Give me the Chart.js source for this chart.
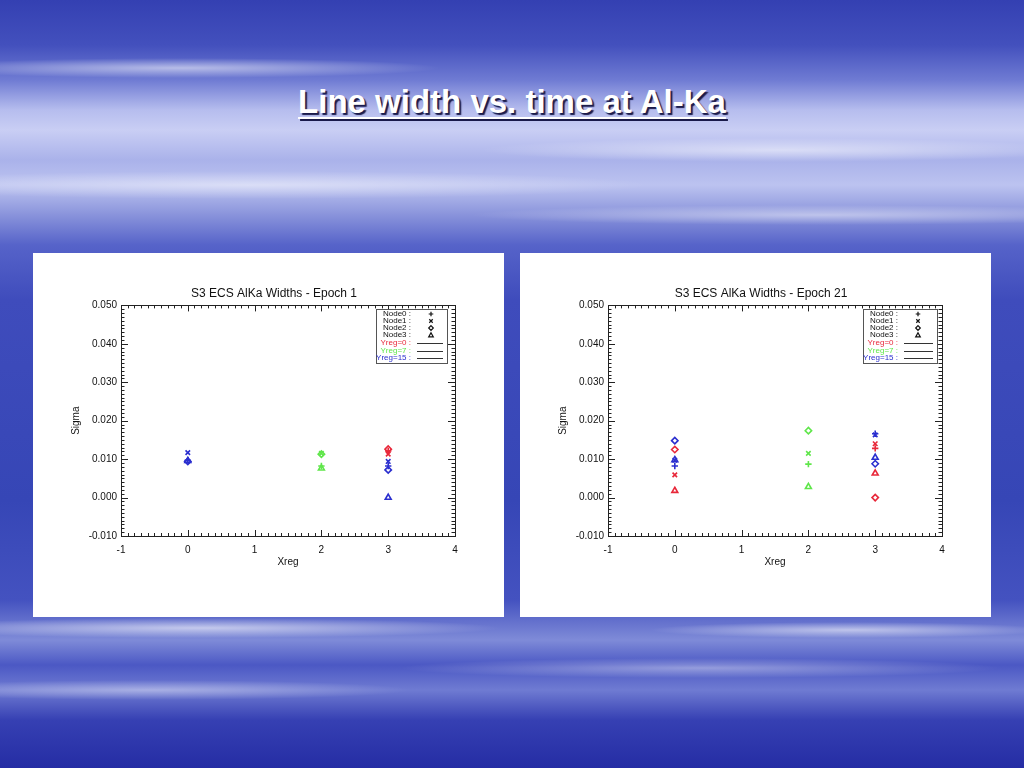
<!DOCTYPE html>
<html>
<head>
<meta charset="utf-8">
<script src="https://cdn.jsdelivr.net/npm/chart.js@4.4.1/dist/chart.umd.min.js"></script>
<style>
html,body{margin:0;padding:0;}
body{width:1024px;height:768px;overflow:hidden;position:relative;
background:
 radial-gradient(ellipse 260px 10px at 180px 68px, rgba(255,255,255,0.55), rgba(255,255,255,0) 100%),
 radial-gradient(ellipse 300px 12px at 780px 150px, rgba(255,255,255,0.5), rgba(255,255,255,0) 100%),
 radial-gradient(ellipse 400px 14px at 250px 185px, rgba(255,255,255,0.45), rgba(255,255,255,0) 100%),
 radial-gradient(ellipse 350px 10px at 820px 215px, rgba(255,255,255,0.45), rgba(255,255,255,0) 100%),
 radial-gradient(ellipse 300px 10px at 200px 628px, rgba(255,255,255,0.6), rgba(255,255,255,0) 100%),
 radial-gradient(ellipse 200px 8px at 850px 630px, rgba(255,255,255,0.55), rgba(255,255,255,0) 100%),
 radial-gradient(ellipse 260px 10px at 150px 690px, rgba(255,255,255,0.4), rgba(255,255,255,0) 100%),
 radial-gradient(ellipse 300px 10px at 700px 668px, rgba(255,255,255,0.4), rgba(255,255,255,0) 100%),
 linear-gradient(to bottom,#3440b2 0px,#4350bd 45px,#6f7bd3 80px,#b6bdee 110px,#c9cef4 130px,#aab2ea 160px,#bcc3f0 185px,#8993db 215px,#5663c9 245px,#3f4cbc 300px,#3646b6 500px,#4452c0 600px,#7f8bd8 640px,#4b58c4 665px,#6f7bd2 690px,#3640b3 720px,#252da4 768px);
 font-family:"Liberation Sans",Arial,sans-serif;}
#title{position:absolute;left:0;width:1024px;top:83px;text-align:center;color:#fff;font:bold 33px/38px "Liberation Sans",Arial,sans-serif;text-decoration:underline;text-decoration-thickness:2px;text-underline-offset:4px;text-shadow:2px 2px 1px #1a1a4a;}
.panel{position:absolute;top:253px;width:471px;height:364px;background:#fff;}
.panel canvas{display:block;}
</style>
</head>
<body>
<div id="title">Line width vs. time at Al-Ka</div>
<div class="panel" style="left:33px"><canvas id="c1" width="471" height="364"></canvas></div>
<div class="panel" style="left:520px"><canvas id="c2" width="471" height="364"></canvas></div>
<script>
// ---- data ----
const xreg = [0, 1, 2, 3];
const xTicks = [-1, 0, 1, 2, 3, 4];
const yTicks = [-0.010, 0.000, 0.010, 0.020, 0.030, 0.040, 0.050];
const nodeNames = ['Node0', 'Node1', 'Node2', 'Node3'];
const yregNames = ['Yreg=0', 'Yreg=7', 'Yreg=15'];
const titles = ['S3 ECS AlKa Widths - Epoch 1', 'S3 ECS AlKa Widths - Epoch 21'];
const n = null;

// Epoch 1: sigma per Xreg (0..3), one array per Yreg and Node
const e1_y0_node0 = [n, n, n, 0.0121];
const e1_y0_node1 = [n, n, n, 0.0113];
const e1_y0_node2 = [n, n, n, 0.0126];
const e1_y0_node3 = [n, n, n, n];
const e1_y7_node0 = [n, n, 0.0082, n];
const e1_y7_node1 = [n, n, 0.0115, n];
const e1_y7_node2 = [n, n, 0.0113, n];
const e1_y7_node3 = [n, n, 0.0076, n];
const e1_y15_node0 = [0.0097, n, n, 0.0082];
const e1_y15_node1 = [0.0117, n, n, 0.0094];
const e1_y15_node2 = [0.0094, n, n, 0.0072];
const e1_y15_node3 = [0.0096, n, n, 0.0000];

// Epoch 21
const e21_y0_node0 = [n, n, n, 0.0128];
const e21_y0_node1 = [0.0059, n, n, 0.0140];
const e21_y0_node2 = [0.0125, n, n, 0.0000];
const e21_y0_node3 = [0.0018, n, n, 0.0063];
const e21_y7_node0 = [n, n, 0.0087, n];
const e21_y7_node1 = [n, n, 0.0115, n];
const e21_y7_node2 = [n, n, 0.0174, n];
const e21_y7_node3 = [n, n, 0.0028, n];
const e21_y15_node0 = [0.0082, n, n, 0.0166];
const e21_y15_node1 = [0.0097, n, n, 0.0163];
const e21_y15_node2 = [0.0148, n, n, 0.0088];
const e21_y15_node3 = [0.0098, n, n, 0.0104];

// ---- styles ----
const yregColors = ['#e8283a', '#5fe64a', '#2b2fcf'];
const nodeStyles = ['cross', 'crossRot', 'rectRot', 'triangle'];

const epoch1 = [[e1_y0_node0, e1_y0_node1, e1_y0_node2, e1_y0_node3],
                [e1_y7_node0, e1_y7_node1, e1_y7_node2, e1_y7_node3],
                [e1_y15_node0, e1_y15_node1, e1_y15_node2, e1_y15_node3]];
const epoch21 = [[e21_y0_node0, e21_y0_node1, e21_y0_node2, e21_y0_node3],
                 [e21_y7_node0, e21_y7_node1, e21_y7_node2, e21_y7_node3],
                 [e21_y15_node0, e21_y15_node1, e21_y15_node2, e21_y15_node3]];

function buildDatasets(ep) {
  const ds = [];
  ep.forEach((row, yi) => {
    row.forEach((vals, ni) => {
      ds.push({
        label: yregNames[yi] + ' ' + nodeNames[ni],
        data: vals.map((v, i) => ({x: xreg[i], y: v})).filter(p => p.y !== null),
        pointStyle: nodeStyles[ni],
        pointRadius: ni === 3 ? 3.4 : 3.2,
        pointHoverRadius: 3,
        borderColor: yregColors[yi],
        backgroundColor: 'rgba(0,0,0,0)',
        borderWidth: 1.6,
        showLine: false
      });
    });
  });
  return ds;
}

function drawSym(ctx, style, x, y, r) {
  ctx.beginPath();
  if (style === 'cross') {
    ctx.moveTo(x - r, y); ctx.lineTo(x + r, y); ctx.moveTo(x, y - r); ctx.lineTo(x, y + r);
  } else if (style === 'crossRot') {
    ctx.moveTo(x - r*0.75, y - r*0.75); ctx.lineTo(x + r*0.75, y + r*0.75);
    ctx.moveTo(x + r*0.75, y - r*0.75); ctx.lineTo(x - r*0.75, y + r*0.75);
  } else if (style === 'rectRot') {
    ctx.moveTo(x, y - r); ctx.lineTo(x + r, y); ctx.lineTo(x, y + r); ctx.lineTo(x - r, y); ctx.closePath();
  } else {
    ctx.moveTo(x, y - r); ctx.lineTo(x + r, y + r*0.8); ctx.lineTo(x - r, y + r*0.8); ctx.closePath();
  }
  ctx.stroke();
}

const idlFrame = {
  id: 'idlFrame',
  afterDraw(chart) {
    const ctx = chart.ctx, a = chart.chartArea;
    const xs = chart.scales.x, ys = chart.scales.y;
    ctx.save();
    ctx.strokeStyle = '#222';
    ctx.lineWidth = 1;
    ctx.strokeRect(Math.round(a.left) + 0.5, Math.round(a.top) + 0.5, Math.round(a.right - a.left), Math.round(a.bottom - a.top));
    ctx.beginPath();
    for (let i = 0; i < xTicks.length; i++) {
      for (let m = 0; m < 10; m++) {
        const v = xTicks[i] + m / 10;
        if (v > xTicks[xTicks.length - 1] + 1e-9) break;
        const px = Math.round(xs.getPixelForValue(v)) + 0.5;
        const L = m === 0 ? 6 : 3;
        ctx.moveTo(px, a.bottom); ctx.lineTo(px, a.bottom - L);
        ctx.moveTo(px, a.top); ctx.lineTo(px, a.top + L);
      }
    }
    for (let i = 0; i < yTicks.length; i++) {
      for (let m = 0; m < 10; m++) {
        const v = yTicks[i] + m * 0.001;
        if (v > yTicks[yTicks.length - 1] + 1e-9) break;
        const py = Math.round(ys.getPixelForValue(v)) + 0.5;
        const L = m === 0 ? 7 : 3.5;
        ctx.moveTo(a.left, py); ctx.lineTo(a.left + L, py);
        ctx.moveTo(a.right, py); ctx.lineTo(a.right - L, py);
      }
    }
    ctx.stroke();

    // legend box
    const bx = 343, by = 56, bw = chart.canvas.id === 'c1' ? 71 : 74, bh = 54;
    ctx.fillStyle = '#fff';
    ctx.fillRect(bx, by, bw, bh);
    ctx.strokeStyle = '#555';
    ctx.strokeRect(bx + 0.5, by + 0.5, bw, bh);
    ctx.font = '8px "Liberation Sans", Arial, sans-serif';
    ctx.textAlign = 'right';
    ctx.textBaseline = 'middle';
    const tx = bx + 35;
    const rows = [61, 68, 75, 82];
    nodeNames.forEach((nm, i) => {
      ctx.fillStyle = '#111';
      ctx.fillText(nm + ' :', tx, rows[i]);
      ctx.strokeStyle = '#111';
      ctx.lineWidth = 1.2;
      drawSym(ctx, nodeStyles[i], bx + 55, rows[i], 2.3);
    });
    const rows2 = [90, 98, 105];
    yregNames.forEach((nm, i) => {
      ctx.fillStyle = yregColors[i];
      ctx.fillText(nm + ' :', tx, rows2[i]);
      ctx.strokeStyle = '#333';
      ctx.lineWidth = 1;
      ctx.beginPath();
      ctx.moveTo(bx + 41, rows2[i] + 0.5); ctx.lineTo(bx + bw - 4, rows2[i] + 0.5);
      ctx.stroke();
    });
    ctx.restore();
  }
};

function makeChart(id, ep, title) {
  return new Chart(document.getElementById(id), {
    type: 'scatter',
    data: {datasets: buildDatasets(ep)},
    plugins: [idlFrame],
    options: {
      responsive: false,
      animation: false,
      events: [],
      layout: {padding: {left: 11, right: 0, top: 0, bottom: 0}},
      plugins: {
        legend: {display: false},
        tooltip: {enabled: false},
        title: {
          display: true, text: title, color: '#111',
          font: {family: '"Liberation Sans", Arial, sans-serif', size: 12, weight: 'normal'},
          padding: {top: 33, bottom: 5}
        }
      },
      scales: {
        x: {
          type: 'linear', min: -1, max: 4,
          grid: {display: false, drawTicks: false},
          border: {display: false},
          afterBuildTicks: s => { s.ticks = xTicks.map(v => ({value: v})); },
          ticks: {color: '#111', padding: 8, font: {family: '"Liberation Sans", Arial, sans-serif', size: 10},
                  callback: v => String(v)},
          title: {display: true, text: 'Xreg', color: '#111',
                  font: {family: '"Liberation Sans", Arial, sans-serif', size: 10}, padding: {top: 0, bottom: 49}},
          afterFit: s => { s.height = 81; }
        },
        y: {
          type: 'linear', min: -0.01, max: 0.05,
          grid: {display: false, drawTicks: false},
          border: {display: false},
          afterBuildTicks: s => { s.ticks = yTicks.map(v => ({value: v})); },
          ticks: {color: '#111', padding: 4, font: {family: '"Liberation Sans", Arial, sans-serif', size: 10},
                  callback: v => v.toFixed(3)},
          title: {display: true, text: 'Sigma', color: '#111',
                  font: {family: '"Liberation Sans", Arial, sans-serif', size: 10}, padding: {top: 26, bottom: 0}},
          afterFit: s => { s.width = 77; }
        },
        y2: {
          type: 'linear', position: 'right', display: true,
          grid: {display: false, drawTicks: false},
          border: {display: false},
          ticks: {display: false},
          afterFit: s => { s.width = 49; }
        }
      }
    }
  });
}

makeChart('c1', epoch1, titles[0]);
makeChart('c2', epoch21, titles[1]);
</script>
</body>
</html>
